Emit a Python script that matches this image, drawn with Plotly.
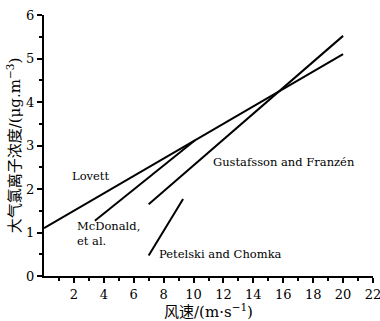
import plotly.graph_objects as go

# Data (wind speed m/s, concentration ug/m3)
lovett_x = [0, 20]
lovett_y = [1.1, 5.1]
mcdonald_x = [3.4, 10.1]
mcdonald_y = [1.27, 3.12]
gustafsson_x = [7.0, 20.0]
gustafsson_y = [1.65, 5.52]
petelski_x = [7.0, 9.3]
petelski_y = [0.47, 1.77]

x_ticks = [2, 4, 6, 8, 10, 12, 14, 16, 18, 20, 22]
y_ticks = [0, 1, 2, 3, 4, 5, 6]

labels = [
    ("Lovett", 1.75, 2.3, "left"),
    ("McDonald,<br>et al.", 2.1, 0.97, "left"),
    ("Petelski and Chomka", 7.55, 0.5, "left"),
    ("Gustafsson and Franzén", 11.2, 2.62, "left"),
]

serif = "DejaVu Serif"
cjk = "DejaVu Serif, Noto Sans CJK SC"

fig = go.Figure()
for xs, ys in [(lovett_x, lovett_y), (mcdonald_x, mcdonald_y),
               (gustafsson_x, gustafsson_y), (petelski_x, petelski_y)]:
    fig.add_trace(go.Scatter(x=xs, y=ys, mode="lines",
                             line=dict(color="black", width=2),
                             showlegend=False, hoverinfo="skip"))

for txt, x, y, al in labels:
    fig.add_annotation(x=x, y=y, text=txt, showarrow=False, xanchor=al,
                       yanchor="middle", align="left",
                       font=dict(family=serif, size=11.5, color="black"))

fig.update_layout(
    width=380, height=321,
    margin=dict(l=44, r=7, t=15, b=45, autoexpand=False),
    paper_bgcolor="white", plot_bgcolor="white",
    font=dict(family=serif),
    xaxis=dict(range=[0, 22], tickvals=x_ticks, showgrid=False, zeroline=False,
               automargin=False, ticklabeloverflow="allow",
               showline=True, linecolor="black", linewidth=2,
               ticks="outside", ticklen=5, tickwidth=1.5, tickcolor="black",
               minor=dict(tickvals=[1, 3, 5, 7, 9, 11, 13, 15, 17, 19, 21],
                          ticks="outside", ticklen=3, tickwidth=1.5, tickcolor="black"),
               tickfont=dict(family=serif, size=13, color="black"),
               title=dict(text="风速/(m·s<sup>−1</sup>)", standoff=4,
                          font=dict(family=cjk, size=15, color="black"))),
    yaxis=dict(range=[0, 6], tickvals=y_ticks, showgrid=False, zeroline=False,
               automargin=False,
               showline=True, linecolor="black", linewidth=2,
               ticks="outside", ticklen=5, tickwidth=1.5, tickcolor="black",
               minor=dict(tickvals=[0.5, 1.5, 2.5, 3.5, 4.5, 5.5],
                          ticks="outside", ticklen=3, tickwidth=1.5, tickcolor="black"),
               tickfont=dict(family=serif, size=13, color="black"),
               title=dict(text="大气氯离子浓度/(μg.m<sup>−3</sup>)", standoff=2,
                          font=dict(family=cjk, size=15, color="black"))),
)

fig.write_html("out.html")
